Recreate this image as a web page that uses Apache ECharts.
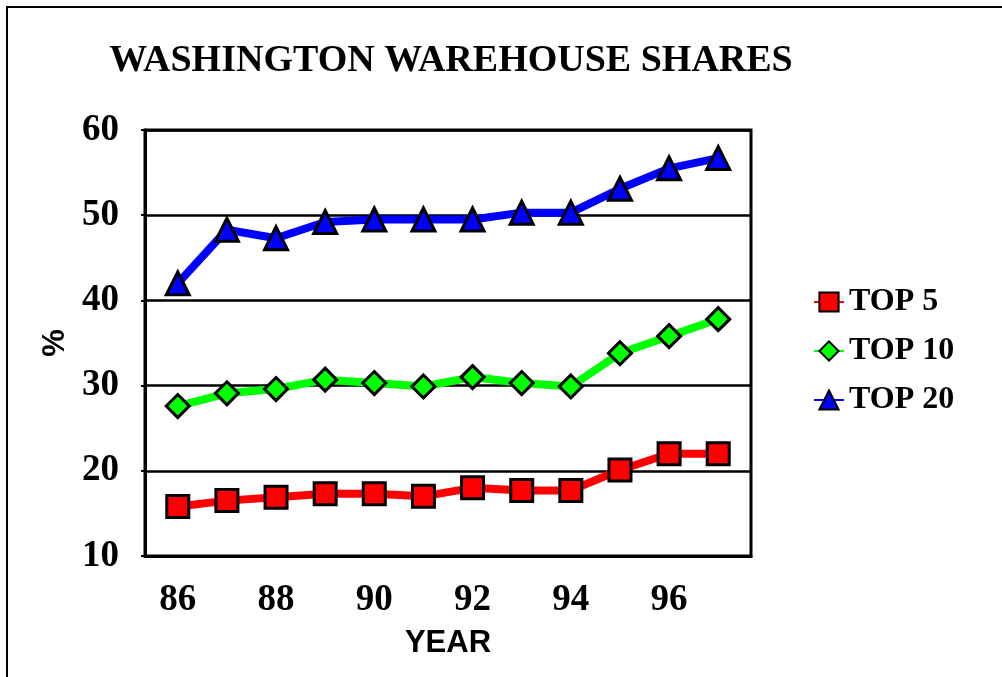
<!DOCTYPE html>
<html>
<head>
<meta charset="utf-8">
<script src="https://cdn.jsdelivr.net/npm/echarts@6/dist/echarts.min.js"></script>
<style>
html,body{margin:0;padding:0;background:#fff;}
#chart{width:1002px;height:677px;}
</style>
</head>
<body>
<div id="chart"></div>
<script>
// data
var years = [86, 87, 88, 89, 90, 91, 92, 93, 94, 95, 96, 97];
var top5  = [15.8, 16.5, 16.9, 17.3, 17.3, 17.0, 18.0, 17.7, 17.7, 20.1, 22.0, 22.0];
var top10 = [27.6, 29.1, 29.6, 30.7, 30.3, 29.9, 31.0, 30.3, 29.9, 33.8, 35.8, 37.8];
var top20 = [42.0, 48.3, 47.3, 49.2, 49.5, 49.5, 49.5, 50.3, 50.3, 53.1, 55.5, 56.7];
var xTicks = [86, 88, 90, 92, 94, 96];

function pairs(vals) {
    var out = [];
    for (var i = 0; i < years.length; i++) {
        out.push([years[i], vals[i]]);
    }
    return out;
}

var serif = "'Liberation Serif', 'Times New Roman', serif";
var sans = "'Liberation Sans', Arial, sans-serif";

var myChart = echarts.init(document.getElementById("chart"));

function mkSeries(name, vals, color, symbol, size) {
    return {
        name: name,
        type: "line",
        data: pairs(vals),
        symbol: symbol,
        symbolSize: size,
        lineStyle: { color: color, width: 8 },
        itemStyle: { color: color, borderColor: "#000", borderWidth: 3 },
        z: 3
    };
}

var option = {
    animation: false,
    graphic: [{
        type: "rect",
        shape: { x: 7, y: 7, width: 1020, height: 700 },
        style: { fill: "none", stroke: "#000", lineWidth: 2 },
        silent: true
    }],
    title: {
        text: "WASHINGTON WAREHOUSE SHARES",
        left: 446,
        textAlign: "center",
        top: 37,
        textStyle: { fontFamily: serif, fontWeight: "bold", fontSize: 38, color: "#000" }
    },
    legend: {
        orient: "vertical",
        left: 808,
        top: 281,
        itemGap: 17,
        itemWidth: 30,
        itemHeight: 24,
        textStyle: { fontFamily: serif, fontWeight: "bold", fontSize: 32, color: "#000" },
        data: ["TOP 5", "TOP 10", "TOP 20"]
    },
    grid: {
        left: 145,
        right: 251,
        top: 130,
        bottom: 121,
        show: true,
        borderColor: "#000",
        borderWidth: 3
    },
    xAxis: {
        type: "value",
        min: 85.333,
        max: 97.667,
        name: "YEAR",
        nameLocation: "middle",
        nameGap: 72,
        nameTextStyle: { fontFamily: sans, fontWeight: "bold", fontSize: 31, color: "#000" },
        axisLine: { lineStyle: { color: "#000", width: 3 } },
        axisTick: { show: false },
        splitLine: { show: false },
        axisLabel: {
            customValues: xTicks,
            margin: 26,
            fontFamily: serif,
            fontWeight: "bold",
            fontSize: 37,
            color: "#000"
        }
    },
    yAxis: {
        type: "value",
        min: 10,
        max: 60,
        interval: 10,
        name: "%",
        nameLocation: "middle",
        nameRotate: 90,
        nameGap: 74,
        nameTextStyle: { fontFamily: sans, fontWeight: "bold", fontSize: 31, color: "#000" },
        axisLine: { show: true, lineStyle: { color: "#000", width: 3 } },
        axisTick: { show: true, length: 4, lineStyle: { color: "#000", width: 2 } },
        splitLine: { lineStyle: { color: "#000", width: 2.5 } },
        axisLabel: {
            margin: 26,
            fontFamily: serif,
            fontWeight: "bold",
            fontSize: 37,
            color: "#000"
        }
    },
    series: [
        mkSeries("TOP 5", top5, "#ff0000", "rect", 22),
        mkSeries("TOP 10", top10, "#00ff00", "diamond", 23),
        mkSeries("TOP 20", top20, "#0000ff", "triangle", 23)
    ]
};

myChart.setOption(option);
window.addEventListener("resize", function () {
    myChart.resize();
});
</script>
</body>
</html>
